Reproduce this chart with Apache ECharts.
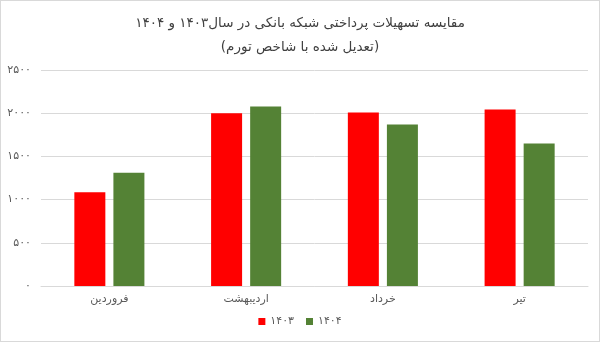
<!DOCTYPE html>
<html><head><meta charset="utf-8">
<script src="https://cdn.jsdelivr.net/npm/echarts@6/dist/echarts.min.js"></script>
<style>html,body{margin:0;padding:0;background:#fff}#c{width:598px;height:340px;border:1px solid #d9d9d9}</style>
</head><body><div id="c"></div>
<script>
var categories = ['فروردین', 'اردیبهشت', 'خرداد', 'تیر'];
var s1403 = [1085, 2000, 2008, 2043];
var s1404 = [1310, 2078, 1868, 1648];
var seriesNames = ['۱۴۰۳', '۱۴۰۴'];
var titleLines = ['مقایسه تسهیلات پرداختی شبکه بانکی در سال۱۴۰۳ و ۱۴۰۴', '(تعدیل شده با شاخص تورم)'];
var fa = function (n) { return String(n).replace(/\d/g, function (d) { return '۰۱۲۳۴۵۶۷۸۹'[d]; }); };
var font = 'DejaVu Sans';
var chart = echarts.init(document.getElementById('c'));
chart.setOption({
  animation: false,
  textStyle: { fontFamily: font },
  title: {
    text: titleLines.join('\n'), left: 'center', top: 5,
    textStyle: { fontFamily: font, fontSize: 13.5, fontWeight: 'normal', color: '#404040', lineHeight: 24 }
  },
  legend: {
    data: seriesNames, bottom: 9, left: 'center', itemWidth: 7, itemHeight: 7, itemGap: 12,
    icon: 'rect', textStyle: { fontFamily: font, fontSize: 11, color: '#595959' }
  },
  grid: { left: 40, right: 11, top: 69, bottom: 55 },
  xAxis: {
    type: 'category', data: categories,
    axisLine: { lineStyle: { color: '#d9d9d9' } }, axisTick: { show: false },
    axisLabel: { fontFamily: font, fontSize: 11, color: '#595959', margin: 8 }
  },
  yAxis: {
    type: 'value', min: 0, max: 2500, interval: 500,
    axisLabel: { fontFamily: font, fontSize: 11, color: '#595959', margin: 10, formatter: function (v) { return fa(v); } },
    splitLine: { lineStyle: { color: '#d9d9d9' } }, axisLine: { show: false }, axisTick: { show: false }
  },
  series: [
    { name: seriesNames[0], type: 'bar', data: s1403, barWidth: 31, barGap: '26%', itemStyle: { color: '#ff0000' } },
    { name: seriesNames[1], type: 'bar', data: s1404, barWidth: 31, itemStyle: { color: '#548235' } }
  ]
});
</script></body></html>
